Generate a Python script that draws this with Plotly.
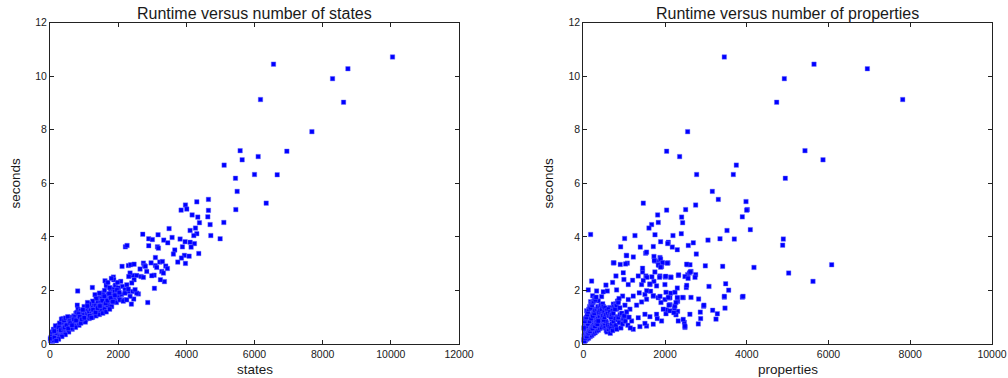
import plotly.graph_objects as go

# ---------------- data ----------------
# Left panel: (states, seconds)
state_points = [
    (10050, 10.72), (6558, 10.45), (8741, 10.28), (8290, 9.91), (6176, 9.13), (8613, 9.03),
    (7684, 7.93), (6949, 7.20), (5579, 7.22), (5638, 6.88), (6108, 7.00), (5109, 6.68),
    (6000, 6.33), (6666, 6.32), (5442, 6.19), (5491, 5.70), (6343, 5.26), (5452, 5.02),
    (4649, 5.40), (4307, 5.31), (3974, 5.19), (3847, 5.00), (4013, 5.04), (4649, 4.99),
    (4170, 4.82), (4336, 4.74), (4630, 4.75), (4698, 4.46), (4385, 4.53), (5100, 4.54),
    (4268, 4.33), (4111, 4.24), (4307, 4.12), (4219, 4.05), (4718, 4.05), (4992, 3.93),
    (3494, 4.31), (3582, 3.98), (3817, 3.92), (3964, 3.82), (4111, 3.80), (4238, 3.75),
    (4140, 3.62), (3886, 3.63), (3661, 3.51), (3621, 3.36), (3944, 3.31), (4082, 3.28),
    (4365, 3.38), (3857, 3.21), (3749, 3.06), (3974, 3.01), (3338, 3.88), (3455, 3.78),
    (3171, 4.08), (2897, 3.93), (3005, 3.90), (2721, 4.10), (2897, 3.67), (3152, 3.63),
    (3181, 3.58), (2212, 3.63), (2261, 3.68), (3093, 3.23), (3220, 3.06), (3299, 3.08),
    (2966, 3.03), (3093, 2.93), (3132, 2.86), (3279, 2.71), (3328, 2.65), (3357, 2.33),
    (3240, 2.40), (3054, 2.57), (3064, 2.08), (2868, 1.55), (2594, 1.87), (2388, 1.49),
    (2457, 1.68), (3396, 2.91), (3445, 2.82), (2985, 2.55), (2114, 2.90), (2300, 2.93),
    (2369, 2.96), (2467, 2.98), (2741, 3.02), (2770, 2.93), (2799, 2.90), (2643, 2.80),
    (2838, 2.71), (2437, 2.56), (2545, 2.56), (2672, 2.52), (2741, 2.49), (2467, 2.40),
    (2349, 2.65), (2310, 2.52), (2398, 2.28), (2251, 2.21), (2075, 2.34), (2124, 2.15),
    (2202, 2.03), (2300, 1.96), (2427, 1.96), (2545, 1.90), (2496, 2.03), (2349, 1.78),
    (2173, 1.65), (2055, 1.65), (1958, 1.78), (1860, 1.90), (1860, 2.50), (1615, 2.36),
    (1664, 2.15), (1762, 2.09), (1909, 2.15), (2007, 2.03), (1243, 2.11), (812, 1.98),
    (1321, 1.84), (1468, 1.74), (1566, 1.90), (1664, 1.65), (1762, 1.59), (1811, 1.41),
    (1713, 1.47), (1566, 1.53),
    (20, 0.12), (40, 0.18), (60, 0.15), (80, 0.22), (100, 0.20), (30, 0.25), (120, 0.28),
    (150, 0.18), (180, 0.30), (200, 0.25), (90, 0.32), (50, 0.30), (140, 0.35), (220, 0.33),
    (250, 0.28), (270, 0.40), (160, 0.42), (300, 0.35), (70, 0.10), (110, 0.14), (190, 0.22),
    (240, 0.20), (10, 0.20), (130, 0.24), (210, 0.40), (280, 0.30), (320, 0.45), (350, 0.38),
    (60, 0.45), (170, 0.50), (230, 0.52), (100, 0.55), (330, 0.30), (380, 0.42), (400, 0.50),
    (260, 0.55), (300, 0.60), (360, 0.55), (420, 0.40), (450, 0.48), (200, 0.62), (250, 0.70),
    (300, 0.72), (160, 0.68), (350, 0.70), (400, 0.65), (420, 0.75), (480, 0.60), (500, 0.55),
    (520, 0.68), (460, 0.72), (550, 0.62), (380, 0.95), (350, 0.80), (280, 0.78), (470, 0.85),
    (500, 0.80), (540, 0.75), (580, 0.70), (600, 0.65), (620, 0.78), (560, 0.90), (640, 0.85),
    (660, 0.72), (700, 0.68), (720, 0.80), (680, 0.95), (600, 1.00), (650, 1.00), (740, 0.90),
    (760, 0.75), (800, 0.85), (780, 1.00), (820, 0.95), (850, 0.80), (880, 0.90), (900, 1.05),
    (860, 1.10), (760, 1.15), (700, 1.05), (800, 1.45), (820, 1.30), (900, 1.25), (920, 1.00),
    (950, 1.15), (980, 0.95), (1000, 1.10), (1020, 1.25), (1050, 1.00), (1080, 1.15),
    (1100, 1.30), (1120, 1.10), (1150, 1.20), (1000, 1.40), (1200, 1.30), (1180, 1.45),
    (1230, 1.15), (1250, 1.40), (1280, 1.25), (1300, 1.50), (1320, 1.30), (1350, 1.45),
    (1380, 1.20), (1400, 1.60), (1420, 1.40), (1450, 1.30), (1480, 1.55), (1500, 1.45),
    (1520, 1.70), (1550, 1.35), (1580, 1.60), (1600, 1.50), (1620, 1.75), (1650, 1.65),
    (1680, 1.40), (1700, 1.85), (1720, 1.55), (1750, 1.70), (1780, 1.95), (1800, 1.60),
    (1820, 1.80), (1850, 2.05), (1870, 2.40), (1880, 1.70), (1900, 1.95), (1920, 2.20),
    (1950, 1.85), (1980, 2.30), (2000, 2.10), (2020, 1.75), (1600, 2.00), (1550, 1.85),
    (1650, 2.20), (1700, 2.30), (1750, 2.10), (1800, 2.45), (1450, 1.90), (1350, 1.70),
    (1250, 1.60), (1150, 1.50), (1100, 1.55), (1200, 1.05), (1300, 1.10), (1400, 1.20),
    (1500, 1.25), (1600, 1.30), (1700, 1.45), (1800, 1.40), (1900, 1.60), (1950, 1.55),
    (2050, 1.65), (2100, 1.85), (2150, 1.60), (2200, 1.90), (2250, 1.65), (2300, 2.05),
    (950, 0.85), (1050, 0.90), (1150, 0.95), (1250, 1.00), (1350, 1.05), (1450, 1.10),
    (1550, 1.15), (850, 0.70), (750, 0.62), (650, 0.55), (550, 0.45), (450, 0.35), (350, 0.28),
    (250, 0.18), (1650, 1.20), (1750, 1.30),
    (335, 0.93), (415, 0.88), (455, 0.97), (520, 1.02), (575, 0.85), (615, 0.58), (690, 0.84),
    (735, 1.02), (790, 1.18), (845, 0.98), (905, 0.78), (965, 1.28), (1035, 0.82), (1095, 1.42),
    (1165, 1.05), (1215, 0.98), (1265, 1.28), (1335, 1.18), (1395, 1.34), (1465, 1.42),
    (1535, 1.62), (1595, 1.78), (1635, 1.52), (1685, 1.62), (1735, 1.88), (1785, 1.72),
    (1845, 1.58), (1905, 1.82), (1965, 2.02), (2035, 1.92), (125, 0.48), (185, 0.12),
    (265, 0.62), (315, 0.52), (395, 0.58), (435, 0.62), (485, 0.70), (535, 0.58), (595, 0.78),
    (645, 0.70), (705, 0.92), (765, 0.88), (835, 1.12), (875, 1.02), (935, 0.92), (1005, 0.98),
]

# Right panel: (properties, seconds)
property_points = [
    (3450, 10.72), (5645, 10.45), (6950, 10.28), (4919, 9.91), (7815, 9.13), (4731, 9.03),
    (2553, 7.93), (2039, 7.20), (2357, 7.00), (5424, 7.22), (5865, 6.88), (3744, 6.68),
    (3671, 6.33), (2773, 6.33), (4943, 6.19), (3157, 5.70), (3304, 5.40), (1468, 5.26),
    (3981, 5.32), (4013, 5.02), (3997, 5.00), (2504, 5.02), (2039, 5.00), (2749, 5.19),
    (1819, 4.82), (2406, 4.74), (3891, 4.75), (2431, 4.53), (1835, 4.54), (1672, 4.46),
    (1607, 4.33), (4087, 4.27), (3516, 4.24), (2398, 4.12), (1754, 4.08), (1264, 4.05),
    (179, 4.09), (2194, 4.05), (3695, 3.92), (3345, 3.93), (3051, 3.88), (2692, 3.78),
    (4894, 3.92), (4878, 3.69), (1011, 3.94), (1892, 3.82), (2080, 3.80), (2569, 3.68),
    (2300, 3.52), (2178, 3.62), (2064, 3.75), (914, 3.63), (1395, 3.62), (1713, 3.64),
    (2765, 3.36), (1052, 3.31), (1224, 3.25), (1525, 3.39), (1729, 3.27), (1876, 3.23),
    (734, 3.03), (1077, 3.02), (905, 2.97), (1827, 3.08), (1884, 2.96), (1917, 3.02),
    (2072, 3.03), (2545, 2.96), (2610, 2.96), (2986, 2.92), (3410, 2.90), (4176, 2.86),
    (6077, 2.96), (5025, 2.65), (5620, 2.34), (3483, 2.25), (3557, 2.01), (3075, 2.15),
    (2520, 2.11), (2300, 2.09), (3891, 1.75), (3450, 1.75), (2822, 1.68), (2635, 1.74),
    (2945, 1.41), (2863, 1.19), (3165, 1.26), (3280, 1.13), (3247, 0.93), (3467, 1.34),
    (2871, 0.95), (2814, 0.75), (2472, 0.81), (2488, 0.62), (2308, 1.22), (2227, 1.34),
    (2121, 1.47), (2023, 1.13), (2039, 1.28), (2268, 1.09), (2308, 1.72), (2308, 1.59),
    (2104, 1.72), (2137, 1.90), (2023, 1.93), (2007, 2.50), (2137, 2.50), (2325, 2.56),
    (2553, 2.59), (2594, 2.65), (2749, 2.59), (2635, 2.71), (2733, 2.49), (2488, 2.52),
    (1060, 3.30), (750, 3.03), (1035, 2.99), (204, 2.35), (326, 1.98), (122, 2.02),
    (228, 1.80), (179, 1.58), (489, 1.95), (587, 1.98), (448, 1.77), (367, 1.61),
    (554, 2.20), (717, 2.30), (815, 2.02), (799, 2.54), (978, 2.66), (994, 2.41),
    (1100, 2.22), (1206, 2.38), (1345, 2.54), (1450, 2.69), (1532, 2.54), (1426, 2.22),
    (1630, 2.22), (1728, 2.34), (1752, 2.69), (1858, 2.94), (1752, 3.10), (1548, 3.43),
    (1891, 3.17), (1915, 2.89), (1940, 3.04), (1875, 2.54), (1997, 2.22), (1646, 1.97),
    (1508, 1.85), (1369, 1.91), (1222, 1.79), (1100, 1.66), (962, 1.79), (856, 1.61),
    (734, 1.49), (652, 1.36), (815, 1.30), (1019, 1.45), (1141, 1.30), (1304, 1.45),
    (1426, 1.57), (1548, 1.67), (1711, 1.79), (1834, 1.73), (1997, 1.66), (2119, 1.73),
    (2298, 1.73), (2445, 1.73), (2241, 1.42), (2119, 1.24), (1956, 1.30), (1793, 1.11),
    (1630, 1.02), (1508, 1.11), (1345, 0.98), (1182, 0.86), (1060, 1.02), (937, 0.86),
    (815, 1.02), (693, 0.92), (570, 0.80), (448, 0.98), (367, 1.17), (245, 1.30),
    (163, 1.05), (81, 1.24), (41, 0.92), (1548, 0.67), (1711, 0.74), (1508, 0.77),
    (1385, 0.65), (1222, 0.55), (1915, 0.86), (1809, 0.95), (2323, 0.86), (2486, 0.67),
    (2445, 0.92), (2608, 1.11), (2216, 1.17),
    (1736, 3.12), (1835, 2.95), (1891, 2.87), (2055, 3.02), (2529, 2.98), (1450, 2.83),
    (1556, 2.49), (1678, 2.51), (1866, 2.49), (2015, 2.53), (2145, 2.49), (2332, 2.58),
    (2617, 2.69), (2564, 2.45), (1467, 2.37), (1630, 2.24), (1793, 2.17), (1550, 1.99),
    (1713, 1.80), (1876, 1.78), (2080, 1.74), (2243, 1.93), (2431, 1.74), (2529, 2.19),
    (3451, 1.78), (3908, 1.78), (1900, 1.55), (2096, 1.45), (2267, 1.55), (2951, 1.45),
    (10, 0.15), (30, 0.20), (50, 0.12), (70, 0.25), (90, 0.18), (110, 0.30), (130, 0.22),
    (150, 0.35), (170, 0.28), (190, 0.40), (210, 0.32), (230, 0.45), (250, 0.38), (270, 0.50),
    (290, 0.42), (310, 0.55), (330, 0.48), (350, 0.60), (370, 0.52), (390, 0.65), (410, 0.58),
    (430, 0.70), (450, 0.62), (470, 0.75), (490, 0.68), (510, 0.80), (530, 0.72), (550, 0.85),
    (20, 0.30), (40, 0.40), (60, 0.50), (80, 0.35), (100, 0.45), (120, 0.55), (140, 0.60),
    (160, 0.70), (180, 0.65), (200, 0.75), (220, 0.80), (240, 0.85), (260, 0.90), (280, 0.95),
    (300, 1.00), (320, 0.90), (340, 1.05), (360, 0.95), (380, 1.10), (400, 1.00), (420, 0.88),
    (440, 1.15), (460, 0.95), (480, 1.05), (500, 0.90), (520, 1.00), (540, 0.60), (560, 0.50),
    (580, 0.45), (600, 0.70), (620, 0.55), (640, 0.65), (660, 0.40), (680, 0.60), (700, 0.75),
    (720, 0.50), (740, 0.85), (760, 0.65), (780, 0.95), (800, 0.70), (820, 0.55), (840, 0.90),
    (860, 1.00), (880, 0.80), (900, 1.10), (920, 0.60), (940, 1.15), (960, 0.75), (980, 0.95),
    (1000, 1.05), (1030, 0.85), (1060, 1.20), (1090, 0.70), (1120, 1.00), (1150, 0.60),
    (30, 0.55), (50, 0.70), (70, 0.65), (90, 0.80), (110, 0.75), (130, 0.90), (150, 0.85),
    (170, 1.00), (190, 0.95), (210, 1.10), (230, 1.05), (250, 1.20), (270, 1.15), (290, 1.25),
    (15, 0.60), (35, 0.85), (55, 0.95), (75, 1.00), (95, 1.10), (115, 1.20), (135, 1.30),
    (155, 1.40), (175, 1.35), (195, 1.50), (215, 1.45), (235, 1.55), (255, 1.60), (275, 1.70),
    (295, 1.65), (315, 1.75), (335, 1.30), (355, 1.40), (375, 1.20), (395, 1.35), (415, 1.25),
    (435, 1.45), (455, 1.30), (475, 1.50), (495, 1.40), (515, 1.20), (535, 1.35), (555, 1.10),
    (575, 1.25), (595, 1.15), (615, 1.30), (635, 1.05), (655, 1.20), (675, 1.00), (695, 1.10),
    (715, 1.25), (735, 1.15), (755, 1.40), (775, 1.30), (795, 1.50), (815, 1.45), (835, 1.60),
    (855, 1.55), (875, 1.70), (895, 1.35), (25, 0.10), (45, 0.22), (65, 0.30), (85, 0.28),
    (105, 0.38), (125, 0.42), (145, 0.50), (165, 0.48), (185, 0.56), (205, 0.62), (225, 0.58),
    (245, 0.68), (265, 0.72), (285, 0.66), (305, 0.78), (325, 0.82), (345, 0.74), (365, 0.86),
]

states = [p[0] for p in state_points]
states_seconds = [p[1] for p in state_points]
properties = [p[0] for p in property_points]
properties_seconds = [p[1] for p in property_points]

left_title = "Runtime versus number of states"
right_title = "Runtime versus number of properties"
left_xlabel = "states"
right_xlabel = "properties"
ylabel = "seconds"
left_xticks = [0, 2000, 4000, 6000, 8000, 10000, 12000]
right_xticks = [0, 2000, 4000, 6000, 8000, 10000]
yticks = [0, 2, 4, 6, 8, 10, 12]

# ---------------- figure ----------------
W, H = 1008, 378
FONT = "Liberation Sans, Arial, Helvetica, sans-serif"
TXT = "#1a1a1a"

marker = dict(symbol="square", size=4.5, color="#0000ff",
              line=dict(width=0.6, color="rgba(110,110,255,0.7)"))

fig = go.Figure()
fig.add_trace(go.Scatter(x=states, y=states_seconds, mode="markers", marker=marker,
                         xaxis="x", yaxis="y", cliponaxis=False, showlegend=False))
fig.add_trace(go.Scatter(x=properties, y=properties_seconds, mode="markers", marker=marker,
                         xaxis="x2", yaxis="y2", cliponaxis=False, showlegend=False))

# pixel geometry of the two axes boxes
L1, R1 = 50, 459
L2, R2 = 583.3, 992
TOP, BOT = 22.7, 344

def ax_common(ticks_list, **kw):
    d = dict(showgrid=False, zeroline=False, showline=True, linecolor="#222",
             linewidth=1, mirror="ticks", ticks="inside", ticklen=4, tickwidth=1,
             tickcolor="#222", automargin=False,
             tickvals=ticks_list, ticktext=[str(t) for t in ticks_list],
             tickfont=dict(family=FONT, size=10.5, color=TXT))
    d.update(kw)
    return d

ydom = [(H - BOT) / H, (H - TOP) / H]

fig.update_layout(
    width=W, height=H,
    margin=dict(l=0, r=0, t=0, b=0, autoexpand=False),
    paper_bgcolor="white", plot_bgcolor="white",
    xaxis=ax_common(left_xticks, domain=[L1 / W, R1 / W], range=[0, 12000], anchor="y"),
    yaxis=ax_common(yticks, domain=ydom, range=[0, 12], anchor="x"),
    xaxis2=ax_common(right_xticks, domain=[L2 / W, R2 / W], range=[0, 10000], anchor="y2"),
    yaxis2=ax_common(yticks, domain=ydom, range=[0, 12], anchor="x2"),
)

def ann(text, xpx, ypx, size, angle=0):
    fig.add_annotation(text=text, x=xpx / W, y=1 - ypx / H, xref="paper", yref="paper",
                       showarrow=False, textangle=angle, xanchor="center", yanchor="middle",
                       font=dict(family=FONT, size=size, color=TXT))

ann(left_title, (L1 + R1) / 2, 13.5, 16)
ann(right_title, (L2 + R2) / 2, 13.5, 16)
ann(left_xlabel, (L1 + R1) / 2, 369, 13.5)
ann(right_xlabel, (L2 + R2) / 2, 369, 13.5)
ann(ylabel, 14.5, 183, 13.5, -90)
ann(ylabel, 547.5, 183, 13.5, -90)

fig.write_html(
    "out.html",
    config={"displayModeBar": False},
    post_script="document.body.style.margin='0';document.body.style.overflow='hidden';",
)
